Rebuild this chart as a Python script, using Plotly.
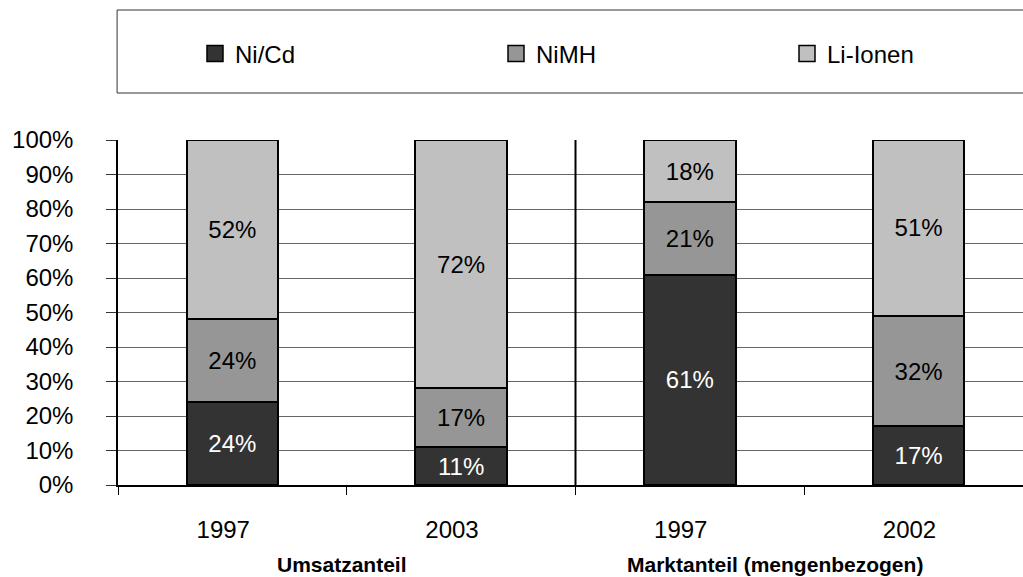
import plotly.graph_objects as go

categories = ["1997", "2003", "1997", "2002"]
groups = ["Umsatzanteil", "Marktanteil (mengenbezogen)"]
series_names = ["Ni/Cd", "NiMH", "Li-Ionen"]
ni_cd = [24, 11, 61, 17]
nimh = [24, 17, 21, 32]
li_ionen = [52, 72, 18, 51]
y_ticks = [0, 10, 20, 30, 40, 50, 60, 70, 80, 90, 100]

colors = ["#333333", "#969696", "#c0c0c0"]
text_colors = ["white", "black", "black"]
FONT = "Liberation Sans, Arial, sans-serif"

PX_LEFT, PX_W, PX_TOP, PX_H = 118, 905, 140, 345
UNIT = 228.75  # pixels per category

x = list(range(len(categories)))
fig = go.Figure()
legend_ids = ["legend", "legend2", "legend3"]
for name, vals, col, tcol, lid in zip(series_names, [ni_cd, nimh, li_ionen], colors, text_colors, legend_ids):
    fig.add_trace(go.Bar(
        x=x, y=vals, name=name, width=0.4, showlegend=False,
        marker=dict(color=col, line=dict(color="black", width=2)),
        text=[f"{v}%" for v in vals], textposition="inside", insidetextanchor="middle",
        textangle=0, constraintext="none",
        textfont=dict(family=FONT, size=24, color=tcol),
        hoverinfo="skip",
    ))
    # legend entry (square swatch)
    fig.add_trace(go.Scatter(
        x=[None], y=[None], mode="markers", name=name, legend=lid, showlegend=True,
        marker=dict(symbol="square", size=19, color=col, line=dict(color="black", width=1.5)),
        hoverinfo="skip",
    ))

# vertical separator between groups
fig.add_shape(type="line", xref="x", yref="y", x0=1.5, x1=1.5, y0=0, y1=100,
              line=dict(color="black", width=2))
# legend frame
fig.add_shape(type="rect", xref="paper", yref="paper", x0=-0.001, x1=1.05,
              y0=1 + (PX_TOP - 93) / PX_H, y1=1 + (PX_TOP - 10) / PX_H,
              line=dict(color="#333333", width=1), fillcolor="rgba(0,0,0,0)", layer="below")

group_px = [342, 775]
for g, gpx in zip(groups, group_px):
    fig.add_annotation(x=-0.5 + (gpx - PX_LEFT) / UNIT, xref="x", y=(485 - 564) / PX_H, yref="paper",
                       text=f"<b>{g}</b>", showarrow=False,
                       font=dict(family=FONT, size=21, color="black"),
                       xanchor="center", yanchor="middle")

leg_y = 1 + (PX_TOP - 54) / PX_H
leg_common = dict(orientation="h", yanchor="middle", y=leg_y, xanchor="left",
                  font=dict(family=FONT, size=24, color="black"), bgcolor="rgba(0,0,0,0)",
                  borderwidth=0, itemsizing="trace")
leg_px = [195, 496, 787]
leg_x = [(p - PX_LEFT) / PX_W for p in leg_px]

fig.update_layout(
    width=1023, height=577,
    margin=dict(l=PX_LEFT, r=0, t=PX_TOP, b=577 - PX_TOP - PX_H),
    paper_bgcolor="white", plot_bgcolor="white",
    barmode="stack", bargap=0.6,
    showlegend=True,
    legend=dict(x=leg_x[0], **leg_common),
    legend2=dict(x=leg_x[1], **leg_common),
    legend3=dict(x=leg_x[2], **leg_common),
    font=dict(family=FONT, size=24, color="black"),
)
fig.update_xaxes(
    range=[-0.5, -0.5 + PX_W / UNIT], tickvals=[i - 0.04 for i in x], ticktext=categories, ticks="",
    tickfont=dict(family=FONT, size=24, color="black"), ticklabelstandoff=22,
    showgrid=False, zeroline=False, showline=True, linecolor="black", linewidth=1.5,
    minor=dict(tick0=-0.5, dtick=1, ticks="outside", ticklen=8, tickcolor="black", tickwidth=1, showgrid=False),
    fixedrange=True,
)
fig.update_yaxes(
    range=[0, 100], tickvals=y_ticks, ticktext=[f"{v}%" for v in y_ticks], ticks="outside", ticklen=10,
    tickcolor="#333333", tickfont=dict(family=FONT, size=24, color="black"), ticklabelstandoff=28,
    showgrid=True, gridcolor="#666666", gridwidth=1, zeroline=False,
    showline=True, linecolor="black", linewidth=1.5, fixedrange=True,
)
fig.write_html("out.html", config={"displayModeBar": False},
               post_script="document.body.style.margin='0';document.body.style.overflow='hidden';")
